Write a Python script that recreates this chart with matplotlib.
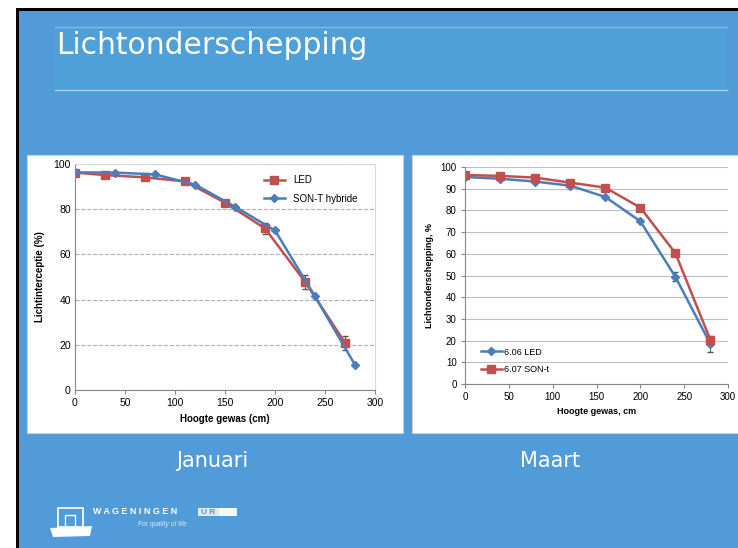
import matplotlib.pyplot as plt
from matplotlib.patches import Rectangle, Polygon
from matplotlib.lines import Line2D

# Januari: lichtinterceptie vs gewashoogte
jan_led_x = [0, 30, 70, 110, 150, 190, 230, 270]
jan_led_y = [96.2, 95.1, 94.1, 92.3, 82.9, 71.5, 47.9, 20.9]
jan_led_err = [0, 0, 0, 0, 0.8, 2.5, 3.0, 3.0]
jan_son_x = [0, 40, 80, 120, 160, 200, 240, 280]
jan_son_y = [96.3, 96.2, 95.4, 90.9, 81.1, 70.6, 41.4, 11.1]
jan_son_err = [0, 0, 0, 0, 0, 0, 0, 0]

# Maart: lichtonderschepping vs gewashoogte
mrt_x = [0, 40, 80, 120, 160, 200, 240, 280]
mrt_led_y = [95.4, 94.6, 93.3, 91.4, 86.2, 75.0, 49.4, 18.4]
mrt_led_err = [0, 0, 0, 0, 0, 0, 2.0, 3.5]
mrt_son_y = [96.3, 95.9, 95.1, 92.8, 90.5, 81.3, 60.3, 20.2]
mrt_son_err = [0, 0, 0, 0, 0, 0, 0, 1.5]

W, H = 738, 548
BLUE_BG = '#529bd9'
RED = '#c0504d'
BLUE = '#4a7ebb'

plt.rcParams['font.family'] = ['Liberation Sans', 'DejaVu Sans']
SLIDE_FONT = ['DejaVu Sans']

fig = plt.figure(figsize=(W / 100, H / 100), dpi=100)
fig.patch.set_facecolor('white')


def px(x0, y0, x1, y1):
    # pixel box (top-left origin) -> figure fraction rect
    return [x0 / W, 1 - y1 / H, (x1 - x0) / W, (y1 - y0) / H]


# slide background
bg = fig.add_axes([0, 0, 1, 1])
bg.set_xlim(0, W)
bg.set_ylim(H, 0)
bg.axis('off')
bg.add_patch(Rectangle((16, 8), W, H, facecolor='black', edgecolor='none'))
bg.add_patch(Rectangle((19, 11), W, H, facecolor=BLUE_BG, edgecolor='none'))
bg.add_patch(Rectangle((55, 27), 672, 63, facecolor='#4f9fd8', edgecolor='none'))
bg.plot([55, 727], [27, 27], color='#80bbe6', lw=1)
bg.plot([55, 727], [90, 90], color='#a9d1f0', lw=1)
bg.text(56, 46, 'Lichtonderschepping', color='white', fontsize=21.4,
        va='center', ha='left', family=SLIDE_FONT)

# white chart panels
bg.add_patch(Rectangle((27, 155), 376, 278, facecolor='white', edgecolor='#d0d0d0', lw=0.8))
bg.add_patch(Rectangle((412, 155), 330, 278, facecolor='white', edgecolor='#d0d0d0', lw=0.8))

bg.text(212, 461, 'Januari', color='white', fontsize=15,
        ha='center', va='center', family=SLIDE_FONT)
bg.text(550, 461, 'Maart', color='white', fontsize=15,
        ha='center', va='center', family=SLIDE_FONT)

# logo
bg.add_patch(Rectangle((58, 508), 25, 19, facecolor='none', edgecolor='white', lw=1.2))
bg.add_patch(Rectangle((65, 515), 10, 13, facecolor='none', edgecolor='white', lw=1.0))
bg.add_patch(Polygon([(50, 528), (92, 526), (90, 536), (53, 537)],
                     closed=True, facecolor='white', edgecolor='none'))
bg.text(93, 512, 'W A G E N I N G E N', color='white', fontsize=6.4,
        fontweight='bold', va='center', ha='left')
bg.add_patch(Rectangle((198, 508), 21, 8, facecolor='#dfe8f2', edgecolor='none'))
bg.add_patch(Rectangle((219, 508), 18, 8, facecolor='#f6f8fb', edgecolor='none'))
bg.text(208.5, 512.3, 'U R', color=BLUE_BG, fontsize=6, fontweight='bold',
        va='center', ha='center')
bg.text(138, 524, 'For quality of life', color='#dbe9f6', fontsize=4.8,
        style='italic', va='center')

# Januari chart
ax1 = fig.add_axes(px(75, 164, 375, 390))
ax1.errorbar(jan_led_x, jan_led_y, yerr=jan_led_err, color=RED, marker='s', ms=6,
             lw=1.8, capsize=2, elinewidth=0.8, ecolor='#555555')
ax1.errorbar(jan_son_x, jan_son_y, yerr=jan_son_err, color=BLUE, marker='D', ms=4.5,
             lw=1.8, capsize=2, elinewidth=0.8, ecolor='#555555')
ax1.set_xlim(0, 300)
ax1.set_ylim(0, 100)
ax1.set_xticks(range(0, 301, 50))
ax1.set_yticks(range(0, 101, 20))
ax1.grid(axis='y', linestyle='--', color='#b0b0b0', lw=0.8)
ax1.set_axisbelow(True)
for s in ['top', 'right']:
    ax1.spines[s].set_color('#d9d9d9')
for s in ['left', 'bottom']:
    ax1.spines[s].set_color('#868686')
ax1.tick_params(labelsize=7.5, length=3, color='#868686', pad=3)
ax1.tick_params(axis='y', length=0)
ax1.set_xlabel('Hoogte gewas (cm)', fontsize=7, fontweight='bold', labelpad=4)
ax1.set_ylabel('Lichtinterceptie (%)', fontsize=7, fontweight='bold', labelpad=6)
h1 = [Line2D([], [], color=RED, marker='s', ms=6, lw=1.8),
      Line2D([], [], color=BLUE, marker='D', ms=4.5, lw=1.8)]
ax1.legend(h1, ['LED', 'SON-T hybride'], loc='upper right',
           bbox_to_anchor=(0.97, 0.99), fontsize=7, frameon=False,
           handlelength=2.2, labelspacing=0.9)

# Maart chart
ax2 = fig.add_axes(px(465, 167, 728, 384))
ax2.errorbar(mrt_x, mrt_led_y, yerr=mrt_led_err, color=BLUE, marker='D', ms=4.5,
             lw=1.8, capsize=2, elinewidth=0.8, ecolor='#555555')
ax2.errorbar(mrt_x, mrt_son_y, yerr=mrt_son_err, color=RED, marker='s', ms=6,
             lw=1.8, capsize=2, elinewidth=0.8, ecolor='#555555')
ax2.set_xlim(0, 300)
ax2.set_ylim(0, 100)
ax2.set_xticks(range(0, 301, 50))
ax2.set_yticks(range(0, 101, 10))
ax2.grid(axis='y', linestyle='-', color='#bfbfbf', lw=0.8)
ax2.set_axisbelow(True)
for s in ['top', 'right']:
    ax2.spines[s].set_visible(False)
for s in ['left', 'bottom']:
    ax2.spines[s].set_color('#868686')
ax2.tick_params(labelsize=7, length=3, color='#868686', pad=3)
ax2.set_xlabel('Hoogte gewas, cm', fontsize=6.5, fontweight='bold', labelpad=3)
ax2.set_ylabel('Lichtonderschepping, %', fontsize=6.5, fontweight='bold', labelpad=5)
h2 = [Line2D([], [], color=BLUE, marker='D', ms=4.5, lw=1.8),
      Line2D([], [], color=RED, marker='s', ms=6, lw=1.8)]
ax2.legend(h2, ['6.06 LED', '6.07 SON-t'], loc='lower left',
           bbox_to_anchor=(0.03, 0.01), fontsize=6.5, frameon=False,
           handlelength=2.3, handletextpad=0.3, labelspacing=0.9)

fig.savefig('out.png', dpi=100, facecolor=fig.get_facecolor())
